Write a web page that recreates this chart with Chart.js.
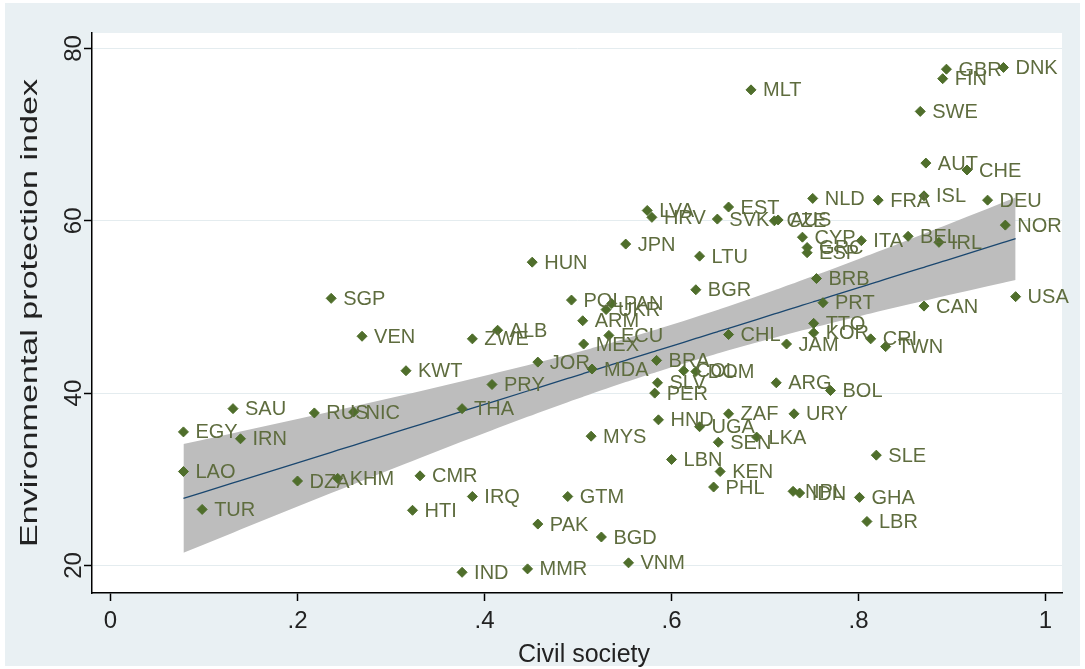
<!DOCTYPE html>
<html>
<head>
<meta charset="utf-8">
<script src="https://cdn.jsdelivr.net/npm/chart.js@4.4.0/dist/chart.umd.min.js"></script>
<style>
  html, body { margin: 0; padding: 0; background: #fff; }
</style>
</head>
<body>
<canvas id="myChart" width="1085" height="669"></canvas>
<script>
// country codes, civil society score (x), environmental protection index (y)
const countries = ["DNK","GBR","FIN","MLT","SWE","AUT","CHE","ISL","FRA","NLD","DEU","NOR","EST","LVA","HRV","SVK","CZE","AUS","JPN","HUN","LTU","BGR","POL","PAN","UKR","ARM","ALB","ZWE","ECU","MEX","JOR","MDA","BRA","COL","DOM","SLV","PER","HND","UGA","ZAF","URY","SEN","LKA","LBN","KEN","PHL","NPL","IDN","GHA","LBR","SLE","ARG","BOL","CHL","JAM","TTO","KOR","CRI","TWN","PRT","BRB","CYP","GRC","ESP","ITA","BEL","IRL","CAN","USA","SGP","VEN","KWT","SAU","RUS","NIC","EGY","IRN","LAO","DZA","KHM","CMR","TUR","HTI","THA","PRY","IRQ","GTM","PAK","BGD","VNM","MMR","IND","MYS"];
const civilSociety = [0.955,0.894,0.890,0.685,0.866,0.872,0.916,0.870,0.821,0.751,0.938,0.957,0.661,0.574,0.579,0.649,0.710,0.714,0.551,0.451,0.630,0.626,0.493,0.536,0.530,0.505,0.414,0.387,0.533,0.506,0.457,0.515,0.584,0.613,0.626,0.585,0.582,0.586,0.630,0.661,0.731,0.650,0.691,0.600,0.652,0.645,0.730,0.737,0.801,0.809,0.819,0.712,0.770,0.661,0.723,0.752,0.752,0.813,0.829,0.762,0.755,0.740,0.745,0.745,0.803,0.853,0.886,0.870,0.968,0.236,0.269,0.316,0.131,0.218,0.260,0.078,0.139,0.078,0.200,0.243,0.331,0.098,0.323,0.376,0.408,0.387,0.489,0.457,0.525,0.554,0.446,0.376,0.514];
const envIndex = [77.8,77.6,76.5,75.2,72.7,66.7,65.9,62.9,62.4,62.6,62.4,59.5,61.6,61.2,60.4,60.2,60.0,60.1,57.3,55.2,55.9,52.0,50.8,50.4,49.7,48.4,47.3,46.3,46.7,45.7,43.6,42.8,43.8,42.6,42.5,41.2,40.0,36.9,36.1,37.6,37.6,34.3,34.9,32.3,30.9,29.1,28.6,28.4,27.9,25.1,32.8,41.2,40.3,46.8,45.7,48.1,47.0,46.3,45.4,50.5,53.3,58.1,56.9,56.3,57.7,58.2,57.5,50.1,51.2,51.0,46.6,42.6,38.2,37.7,37.8,35.5,34.7,30.9,29.8,30.1,30.4,26.5,26.4,38.2,41.0,28.0,28.0,24.8,23.3,20.3,19.6,19.2,35.0];

const xTicks = [0, 0.2, 0.4, 0.6, 0.8, 1];
const xTickLabels = ["0", ".2", ".4", ".6", ".8", "1"];
const yTicks = [20, 40, 60, 80];

const FONT = '"Liberation Sans", Arial, sans-serif';
const chartDOM = document.getElementById("myChart");

// OLS fit with 95% CI of the mean prediction (like Stata lfitci)
function linearFit(xs, ys) {
  const n = xs.length;
  const mx = xs.reduce((a, b) => a + b, 0) / n;
  const my = ys.reduce((a, b) => a + b, 0) / n;
  let sxx = 0, sxy = 0;
  for (let i = 0; i < n; i++) {
    sxx += (xs[i] - mx) * (xs[i] - mx);
    sxy += (xs[i] - mx) * (ys[i] - my);
  }
  const b = sxy / sxx;
  const a = my - b * mx;
  let sse = 0;
  for (let i = 0; i < n; i++) {
    const r = ys[i] - (a + b * xs[i]);
    sse += r * r;
  }
  const s = Math.sqrt(sse / (n - 2));
  return { a, b, s, n, mx, sxx };
}

const fit = linearFit(civilSociety, envIndex);
const tCrit = 1.986;
const fitXs = [...new Set(civilSociety)].sort((p, q) => p - q);
const fitLine = fitXs.map((x) => ({ x, y: fit.a + fit.b * x }));
const halfWidth = (x) => tCrit * fit.s * Math.sqrt(1 / fit.n + (x - fit.mx) ** 2 / fit.sxx);
const bandUpper = fitXs.map((x) => ({ x, y: fit.a + fit.b * x + halfWidth(x) }));
const bandLower = fitXs.map((x) => ({ x, y: fit.a + fit.b * x - halfWidth(x) }));

const points = civilSociety.map((x, i) => ({ x, y: envIndex[i] }));

const backgroundPlugin = {
  id: "background",
  beforeDraw(chart) {
    const ctx = chart.ctx;
    const area = chart.chartArea;
    ctx.save();
    ctx.fillStyle = "#ffffff";
    ctx.fillRect(0, 0, chart.width, chart.height);
    ctx.fillStyle = "#E9F0F3";
    ctx.fillRect(5, 3, chart.width - 10, chart.height - 6);
    ctx.fillStyle = "#ffffff";
    ctx.fillRect(area.left, area.top, area.right - area.left, area.bottom - area.top);
    ctx.restore();
  },
};

const labelsPlugin = {
  id: "pointLabels",
  afterDatasetsDraw(chart) {
    const ctx = chart.ctx;
    const meta = chart.getDatasetMeta(0);
    ctx.save();
    ctx.font = "20px " + FONT;
    ctx.fillStyle = "#5E6C3E";
    ctx.textAlign = "left";
    ctx.textBaseline = "middle";
    meta.data.forEach((pt, i) => {
      ctx.fillText(countries[i], pt.x + 12, pt.y + 1);
    });
    ctx.restore();
  },
  afterDraw(chart) {
    const ctx = chart.ctx;
    const yScale = chart.scales.y;
    const area = chart.chartArea;
    ctx.save();
    ctx.fillStyle = "#222";
    ctx.textAlign = "center";
    ctx.textBaseline = "middle";
    ctx.font = "24px " + FONT;
    yTicks.forEach((v) => {
      ctx.save();
      ctx.translate(74, yScale.getPixelForValue(v));
      ctx.rotate(-Math.PI / 2);
      ctx.fillText(String(v), 0, 0);
      ctx.restore();
    });
    // y title, stretched along its length like the Stata export
    ctx.font = "24px " + FONT;
    const title = "Environmental protection index";
    const stretch = 468 / ctx.measureText(title).width;
    ctx.save();
    ctx.translate(30, (area.top + area.bottom) / 2);
    ctx.rotate(-Math.PI / 2);
    ctx.scale(stretch, 1);
    ctx.fillText(title, 0, 0);
    ctx.restore();
    ctx.font = "25px " + FONT;
    ctx.fillText("Civil society", 584, 655);
    ctx.restore();
  },
};

const config = {
  type: "scatter",
  data: {
    datasets: [
      {
        label: "Environmental protection index",
        data: points,
        pointStyle: "rectRot",
        pointRadius: 5,
        pointBorderWidth: 1,
        backgroundColor: "#4F6E2B",
        borderColor: "#4F6E2B",
        order: 0,
      },
      {
        type: "line",
        label: "Fitted values",
        data: fitLine,
        borderColor: "#1A476F",
        borderWidth: 1.3,
        pointRadius: 0,
        fill: false,
        order: 1,
      },
      {
        type: "line",
        label: "95% CI upper",
        data: bandUpper,
        borderWidth: 0,
        borderColor: "rgba(0,0,0,0)",
        backgroundColor: "#BDBDBD",
        pointRadius: 0,
        fill: "+1",
        order: 2,
      },
      {
        type: "line",
        label: "95% CI lower",
        data: bandLower,
        borderWidth: 0,
        borderColor: "rgba(0,0,0,0)",
        pointRadius: 0,
        fill: false,
        order: 3,
      },
    ],
  },
  options: {
    responsive: false,
    animation: false,
    devicePixelRatio: 1,
    layout: { padding: { top: 33, right: 23, left: 0, bottom: 0 } },
    plugins: {
      legend: { display: false },
      tooltip: { enabled: false },
    },
    scales: {
      x: {
        type: "linear",
        min: -0.0198,
        max: 1.0176,
        afterBuildTicks: (s) => {
          s.ticks = xTicks.map((v) => ({ value: v }));
        },
        afterFit: (s) => {
          s.height = 76;
        },
        grid: { display: true, drawOnChartArea: false, tickLength: 8, tickColor: "#000", tickWidth: 1.5 },
        border: { display: true, color: "#000", width: 1.5 },
        ticks: {
          callback: (v) => xTickLabels[xTicks.indexOf(v)],
          font: { size: 24, family: FONT },
          color: "#222",
          padding: 6,
          maxRotation: 0,
        },
      },
      y: {
        type: "linear",
        min: 16.8,
        max: 81.8,
        afterBuildTicks: (s) => {
          s.ticks = yTicks.map((v) => ({ value: v }));
        },
        afterFit: (s) => {
          s.width = 92;
        },
        grid: { color: "#E4ECEF", lineWidth: 1, tickLength: 8, tickColor: "#000", tickWidth: 1.5 },
        border: { display: true, color: "#000", width: 1.5 },
        ticks: { display: false },
      },
    },
  },
  plugins: [backgroundPlugin, labelsPlugin],
};

const myChart = new Chart(chartDOM, config);
</script>
</body>
</html>
